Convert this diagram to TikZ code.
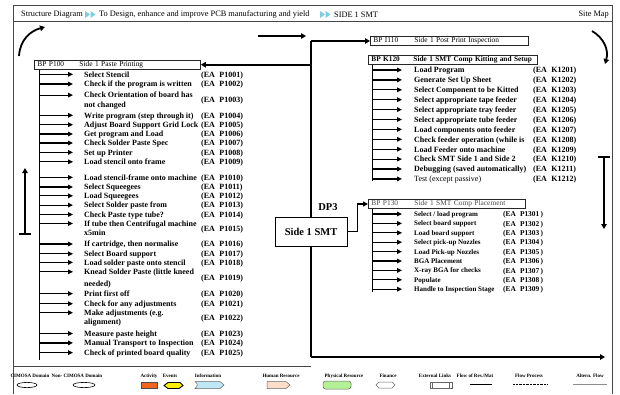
\documentclass[tikz,border=0pt]{standalone}
\usepackage{fontspec}
\setmainfont{Liberation Serif}
\usetikzlibrary{arrows.meta}
\definecolor{ffc}{RGB}{125,205,225}
\definecolor{actc}{RGB}{240,100,30}
\definecolor{evtc}{RGB}{255,240,0}
\definecolor{infc}{RGB}{190,232,245}
\definecolor{humc}{RGB}{252,222,200}
\definecolor{phyc}{RGB}{180,240,150}
\definecolor{framec}{RGB}{70,70,70}
\begin{document}
\begin{tikzpicture}[x=1pt,y=-1pt,
  frameline/.style={draw=framec, line width=0.9pt},
  spine/.style={line width=1.8pt},
  bigarr/.style={line width=1.8pt, -{Triangle[length=5pt,width=5.5pt]}},
  larr/.style={line width=1.2pt, -{Triangle[length=5pt,width=4.6pt]}},
  thinspine/.style={line width=1pt},
  itm/.style={font=\fontsize{8}{9.6}\selectfont\bfseries, inner sep=0pt, anchor=base west},
  itmr/.style={font=\fontsize{8}{9.6}\selectfont, inner sep=0pt, anchor=base west},
  itms/.style={font=\fontsize{7}{8.4}\selectfont\bfseries, inner sep=0pt, anchor=base west},
  code/.style={font=\fontsize{8}{9.6}\selectfont\bfseries, inner sep=0pt, anchor=base west},
  codes/.style={font=\fontsize{7.4}{8.4}\selectfont\bfseries, inner sep=0pt, anchor=base west},
  tbox/.style={draw=black!85, line width=0.9pt, inner xsep=3pt, inner ysep=0pt,
    minimum height=9.5pt, anchor=west, align=left, font=\fontsize{7.4}{8}\selectfont},
  hdr/.style={font=\fontsize{8.3}{9}\selectfont, inner sep=0pt, anchor=west},
  leg/.style={font=\fontsize{5}{6}\selectfont\bfseries, inner sep=0pt},
  dpbox/.style={draw, line width=1pt, fill=white, minimum width=72pt, minimum height=29pt,
    inner sep=0pt, font=\fontsize{10.5}{12}\selectfont\bfseries},
]
\useasboundingbox (0,0) rectangle (620,394);

% page frame and header bar
\draw[frameline] (13,394) -- (13,5) -- (612,5) -- (612,394);
\draw[frameline] (13,21.5) -- (612,21.5);
\node[hdr] (h1) at (21,14.5) {Structure Diagram};
\node[hdr] (h2) at (99,14.5) {To Design, enhance and improve PCB manufacturing and yield};
\node[hdr] (h3) at (334,14.5) {SIDE 1 SMT};
\node[hdr, anchor=east] (site) at (609,14.5) {Site Map};
\foreach \x in {85,90.5,320,325.5}
  \fill[ffc] (\x,11) -- (\x+5,14.5) -- (\x,18) -- cycle;

% cycle arrows around the sheet
\draw[line width=1.8pt, -{Triangle[length=5pt,width=5.5pt]}] (19,56) .. controls (20,40) and (30,31) .. (45,27);
\draw[line width=1.8pt, -{Triangle[length=5pt,width=5.5pt]}] (592,31) .. controls (604,38) and (609,50) .. (605,64);
\draw[line width=1.8pt, -{Triangle[length=5pt,width=5.5pt]}] (258,36) -- (306,36);
\draw[line width=1.2pt] (19,234) -- (31,234);
\draw[line width=1.8pt, -{Triangle[length=5pt,width=5.5pt]}] (25,234) -- (25,168);
\draw[line width=1.2pt] (598,157) -- (610,157);
\draw[line width=1.8pt, -{Triangle[length=5pt,width=5.5pt]}] (604,157) -- (604,229);

% process boxes
\node[tbox, text width=160pt] (P100) at (34,64.7) {\makebox[42pt][l]{BP P100}Side 1 Paste Printing};
\node[tbox, text width=152pt] (I110) at (370,41) {\makebox[41pt][l]{BP I110}Side 1 Post Print Inspection};
\node[tbox, text width=163pt, font=\fontsize{7.3}{8}\selectfont\bfseries] (K120) at (368,60) {\makebox[42pt][l]{BP K120}\mbox{Side 1 SMT Comp Kitting and Setup}};
\node[tbox, text width=151pt, text=black!70] (P130) at (368,204) {\makebox[43pt][l]{BP P130}Side 1 SMT Comp Placement};

% main decomposition spine
\coordinate (top) at (311,41);
\coordinate (bot) at (311,357);
\coordinate (endR) at (605,357);
\draw[spine] (bot) -- (top);
\draw[bigarr] (top) -- (I110.west);
\draw[bigarr] (top |- P100.east) -- (P100.east);
\draw[bigarr] (bot) -- (endR);
\draw[frameline] (13,366) -- (311,366);

\node[dpbox] (smt) at (311,231.5) {Side 1 SMT};
\node[font=\fontsize{10.5}{12}\selectfont\bfseries, inner sep=0pt] (dp3) at (328,207.5) {DP3};
\draw[line width=1.6pt, -{Triangle[length=5pt,width=5pt]}] (smt.east) -- ([xshift=10pt]smt.east) |- (P130.west);

% P100 activities
\foreach \n/\c/\o/\t/\k in {
  1/74.3/0/{Select Stencil}/P1001,
  2/84/0/{Check if the program is written}/P1002,
  3/95.1/4.9/{Check Orientation of board has}/P1003,
  4/115.3/0/{Write program (step through it)}/P1004,
  5/124.7/0/{Adjust Board Support Grid Lock}/P1005,
  6/134/0/{Get program and Load}/P1006,
  7/143/0/{Check Solder Paste Spec}/P1007,
  8/152.4/0/{Set up Printer}/P1008,
  9/161.8/0/{Load stencil onto frame}/P1009,
  10/177.4/0/{Load stencil-frame onto machine}/P1010,
  11/187/0/{Select Squeegees}/P1011,
  12/195.8/0/{Load Squeegees}/P1012,
  13/205.1/0/{Select Solder paste from}/P1013,
  14/214.5/0/{Check Paste type tube?}/P1014,
  15/223.5/4.7/{If tube then Centrifugal machine}/P1015,
  16/244/0/{If cartridge, then normalise}/P1016,
  17/253.8/0/{Select Board support}/P1017,
  18/262.4/0/{Load solder paste onto stencil}/P1018,
  19/271.8/6/{Knead Solder Paste (little kneed}/P1019,
  20/293.6/0/{Print first off}/P1020,
  21/303.7/0/{Check for any adjustments}/P1021,
  22/312.7/4.7/{Make adjustments (e.g.}/P1022,
  23/333.5/0/{Measure paste height}/P1023,
  24/342.9/0/{Manual Transport to Inspection}/P1024,
  25/352.6/0/{Check of printed board quality}/P1025}{
  \node[itm] (p\n) at (84,\c+2.8) {\t};
  \node[code] (pc\n) at (201,\c+2.8+\o) {(EA\hspace{2.5pt} \k)};
  \coordinate (pa\n) at (39,\c);
  \draw[larr, shorten >=11pt] (pa\n) -- (pa\n -| p\n.west);
}
\node[itm] (p3b) at ([yshift=-9.8pt]p3.base west) {not changed};
\node[itm] (p15b) at ([yshift=-9.4pt]p15.base west) {x5min};
\node[itm] (p19b) at ([yshift=-12pt]p19.base west) {needed)};
\node[itm] (p22b) at ([yshift=-9.4pt]p22.base west) {alignment)};
\coordinate (pend) at (39,360);
\draw[thinspine] (P100.south -| pa1) -- (pend);

% K120 activities
\foreach \n/\c/\t/\k in {
  1/70/{Load Program}/K1201,
  2/79.9/{Generate Set Up Sheet}/K1202,
  3/89.8/{Select Component to be Kitted}/K1203,
  4/99.7/{Select appropriate tape feeder}/K1204,
  5/109.6/{Select appropriate tray feeder}/K1205,
  6/119.5/{Select appropriate tube feeder}/K1206,
  7/129.4/{Load components onto feeder}/K1207,
  8/139.3/{Check feeder operation (while is}/K1208,
  9/149.2/{Load Feeder onto machine}/K1209,
  10/159.1/{Check SMT Side 1 and Side 2}/K1210,
  11/169/{Debugging (saved automatically)}/K1211}{
  \node[itm] (k\n) at (414,\c+2.8) {\t};
  \node[code] (kc\n) at (533,\c+2.8) {(EA\hspace{2.5pt} \k)};
  \coordinate (ka\n) at (372,\c);
  \draw[larr, shorten >=12pt] (ka\n) -- (ka\n -| k\n.west);
}
\node[itmr] (k12) at (414,178.9+2.8) {Test (except passive)};
\node[code] (kc12) at (533,178.9+2.8) {(EA\hspace{2.5pt} K1212)};
\coordinate (ka12) at (372,178.9);
\draw[larr, shorten >=12pt] (ka12) -- (ka12 -| k12.west);
\draw[thinspine] (K120.south -| ka1) -- ([yshift=-2pt]ka12);

% P130 activities
\foreach \n/\c/\t/\k in {
  1/214/{Select / load program}/P1301,
  2/223.4/{Select board support}/P1302,
  3/232.8/{Load board support}/P1303,
  4/242.2/{Select pick-up Nozzles}/P1304,
  5/251.6/{Load Pick-up Nozzles}/P1305,
  6/261/{BGA Placement}/P1306,
  7/270.4/{X-ray BGA for checks}/P1307,
  8/279.8/{Populate}/P1308,
  9/289.2/{Handle to Inspection Stage}/P1309}{
  \node[itms] (q\n) at (414,\c+2.5) {\t};
  \node[codes] (qc\n) at (503,\c+2.6) {(EA\hspace{2.2pt} \k\,)};
  \coordinate (qa\n) at (372,\c);
  \draw[larr, shorten >=12pt] (qa\n) -- (qa\n -| q\n.west);
}
\draw[thinspine] (P130.south -| qa1) -- ([yshift=-3pt]qa9);

% legend
\node[leg] (lg1) at (30,376) {CIMOSA Domain};
\node[leg] (lg2) at (77,376) {Non- CIMOSA Domain};
\node[leg] (lg3) at (149,376) {Activity};
\node[leg] (lg4) at (170,376) {Events};
\node[leg] (lg5) at (208,376) {Information};
\node[leg] (lg6) at (281,376) {Human Resource};
\node[leg] (lg7) at (344,376) {Physical Resource};
\node[leg] (lg8) at (388,376) {Finance};
\node[leg] (lg9) at (435,376) {External Links};
\node[leg] (lg10) at (475,376) {Flow of Res./Mat};
\node[leg] (lg11) at (529,376) {Flow Process};
\node[leg] (lg12) at (590,376) {Altern. Flow};

\draw[line width=0.6pt] (27,385) ellipse [x radius=10, y radius=2.6];
\draw[line width=0.6pt] (84,385) ellipse [x radius=11, y radius=2.6];
\filldraw[fill=actc, draw=black!70, line width=0.4pt] (141,382) rectangle (157,388.5);
\filldraw[fill=evtc, draw=black, line width=0.9pt] (164,385.5) -- (168,382.5) -- (180,382.5) -- (183,385.5) -- (179,388.5) -- (168,388.5) -- cycle;
\filldraw[fill=infc, draw=black!60, line width=0.5pt] (195,381.5) -- (220,381.5) -- (224,385) -- (220,388.5) -- (195,388.5) .. controls (198,386.5) and (198,383.5) .. (195,381.5) -- cycle;
\filldraw[fill=humc, draw=black!60, line width=0.5pt] (267,381.5) -- (286,381.5) -- (290,385) -- (286,388.5) -- (267,388.5) -- cycle;
\filldraw[fill=phyc, draw=black!60, line width=0.5pt, rounded corners=2.5pt] (323,381) rectangle (351,389);
\draw[black!60, line width=0.5pt] (376,385) -- (379,382) -- (392,382) -- (395,385) -- (392,388) -- (379,388) -- cycle;
\draw[black!60, line width=0.5pt] (430,382) rectangle (452,388);
\draw[black!60, line width=0.5pt] (432.5,382) -- (432.5,388) (449.5,382) -- (449.5,388);
\draw[line width=0.5pt] (470,384) -- (492,384);
\draw[densely dotted, line width=0.4pt] (513,384) -- (547,384);
\draw[black!45, line width=0.5pt] (573,384) -- (607,384);
\end{tikzpicture}
\end{document}
